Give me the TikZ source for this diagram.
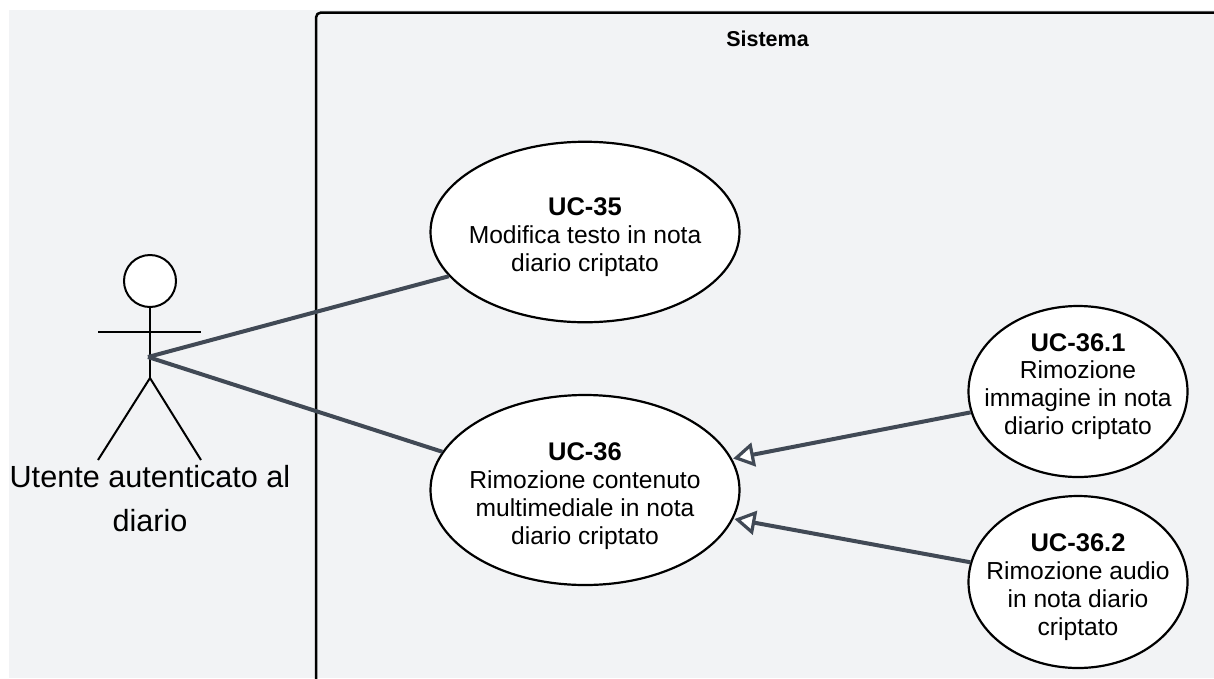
\documentclass[tikz,border=0pt]{standalone}
\usepackage{fontspec}
\setmainfont{Liberation Sans}
\usetikzlibrary{shapes.geometric,arrows.meta}
\definecolor{bgc}{HTML}{F2F3F5}
\definecolor{linec}{HTML}{414955}
\newcommand{\uctitle}[1]{{\fontsize{25.5}{27.8}\selectfont\bfseries #1}}
\tikzset{
  x=1pt,y=-1pt,
  usecase/.style={ellipse,draw=black,line width=2.2pt,fill=white,inner sep=0pt},
  uctext/.style={inner sep=0pt,align=center,font=\fontsize{24.6}{27.8}\selectfont},
  link/.style={draw=linec,line width=4pt},
  gen/.style={link,shorten >=1pt,-{Triangle[open,fill=white,length=21pt,width=24pt,line width=3.2pt]}},
  stick/.style={draw=black,line width=2pt},
}
\begin{document}
\begin{tikzpicture}
\useasboundingbox (0,0) rectangle (1214,678);
\fill[bgc] (9,10) rectangle (1214,678);
\draw[stick,line width=2.5pt,rounded corners=5pt] (316,682) -- (316,12.5) -- (1218,12.5);
\node[font=\fontsize{21.5}{25}\selectfont\bfseries] (sys) at (767.5,38.5) {Sistema};
% use case ellipses
\node[usecase,minimum width=309pt,minimum height=180.5pt] (uc35) at (585,232) {};
\node[usecase,minimum width=309pt,minimum height=190pt] (uc36) at (585,490) {};
\node[usecase,minimum width=219pt,minimum height=171pt] (uc361) at (1078,391.5) {};
\node[usecase,minimum width=219pt,minimum height=172pt] (uc362) at (1078,582) {};
% actor
\node[circle,draw=black,fill=white,line width=2pt,minimum size=52pt,inner sep=0pt] (head) at (150,281) {};
\coordinate (crotch) at (150,378);
\coordinate (la) at (98,332);
\coordinate (ra) at (201,332);
\coordinate (lf) at (98,460);
\coordinate (rf) at (201,460);
\draw[stick] (head.south) -- (crotch);
\draw[stick] (la) -- (ra);
\draw[stick] (lf) -- (crotch) -- (rf);
% connectors
\coordinate (hub) at (148,357);
\draw[link] (hub) -- (uc35.198);
\draw[link] (hub) -- (uc36.165);
\draw[gen] (uc361) -- (uc36.12);
\draw[gen] (uc362) -- (uc36.-11);
\node[align=center,font=\fontsize{30.6}{44}\selectfont] (actor) at (150,499) {Utente autenticato al\\diario};
% use case texts
\node[uctext] (t35) at (585,237) {\uctitle{UC-35}\\Modifica testo in nota\\diario criptato};
\node[uctext] (t36) at (585,496) {\uctitle{UC-36}\\Rimozione contenuto\\multimediale in nota\\diario criptato};
\node[uctext] (t361) at (1078,386.5) {\uctitle{UC-36.1}\\Rimozione\\immagine in nota\\diario criptato};
\node[uctext] (t362) at (1078,587) {\uctitle{UC-36.2}\\Rimozione audio\\in nota diario\\criptato};
\end{tikzpicture}
\end{document}
